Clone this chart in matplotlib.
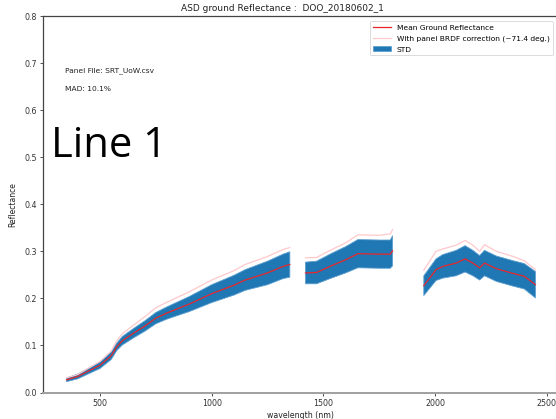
import numpy as np
import matplotlib
matplotlib.use("Agg")
import matplotlib.pyplot as plt

# ---- data ----
wavelength = [350, 400, 450, 500, 550, 575, 600, 650, 700, 750, 800, 900, 1000, 1100, 1150, 1250, 1320, 1350,
              1385,
              1420, 1470, 1530, 1600, 1655, 1750, 1800, 1810,
              1880,
              1950, 2005, 2035, 2095, 2135, 2170, 2200, 2222, 2275, 2350, 2400, 2450]
nan = float("nan")
mean_refl = [0.027, 0.034, 0.046, 0.058, 0.078, 0.097, 0.110, 0.126, 0.141, 0.158, 0.169, 0.188, 0.210, 0.228,
             0.239, 0.254, 0.268, 0.272,
             nan,
             0.254, 0.255, 0.268, 0.282, 0.295, 0.294, 0.294, 0.301,
             nan,
             0.227, 0.261, 0.268, 0.275, 0.284, 0.275, 0.265, 0.275, 0.263, 0.253, 0.247, 0.229]
std_refl = [0.004, 0.005, 0.006, 0.007, 0.008, 0.008, 0.009, 0.010, 0.011, 0.012, 0.013, 0.016, 0.019, 0.021,
            0.022, 0.025, 0.026, 0.027,
            nan,
            0.023, 0.024, 0.026, 0.028, 0.030, 0.030, 0.030, 0.032,
            nan,
            0.021, 0.023, 0.025, 0.027, 0.028, 0.027, 0.026, 0.027, 0.027, 0.027, 0.027, 0.028]
brdf_refl = [0.031, 0.038, 0.052, 0.066, 0.088, 0.110, 0.125, 0.143, 0.161, 0.180, 0.192, 0.214, 0.239, 0.259,
             0.272, 0.289, 0.304, 0.308,
             nan,
             0.286, 0.287, 0.302, 0.318, 0.335, 0.334, 0.337, 0.346,
             nan,
             0.260, 0.300, 0.305, 0.313, 0.323, 0.313, 0.300, 0.314, 0.300, 0.289, 0.280, 0.261]
x_ticks = [500, 1000, 1500, 2000, 2500]
y_ticks = [0.0, 0.1, 0.2, 0.3, 0.4, 0.5, 0.6, 0.7, 0.8]

wl = np.array(wavelength, dtype=float)
m = np.array(mean_refl, dtype=float)
s = np.array(std_refl, dtype=float)
b = np.array(brdf_refl, dtype=float)

fig = plt.figure(figsize=(5.56, 4.19), dpi=100)
ax = fig.add_axes([43.3 / 556, 26.5 / 419, (558 - 43.3) / 556, (392.5 - 16) / 419])

ax.fill_between(wl, m - s, m + s, color="#1f77b4", linewidth=0.6, edgecolor="#5fa0d0", label="STD")
ax.plot(wl, m, color="#e8262a", linewidth=0.9, label="Mean Ground Reflectance")
ax.plot(wl, b, color="#ffc8cc", linewidth=0.9, label="With panel BRDF correction (~71.4 deg.)")

ax.set_xlim(246, 2551)
ax.set_ylim(0, 0.8)
ax.set_xticks(x_ticks)
ax.set_yticks(y_ticks)
ax.tick_params(labelsize=5.7, length=2.5, width=0.6, colors="#333333", pad=2)

for side in ["left", "top", "right"]:
    ax.spines[side].set_color("#444444")
    ax.spines[side].set_linewidth(0.9)
ax.spines["bottom"].set_color("#a0a0a0")
ax.spines["bottom"].set_linewidth(1.4)

ax.set_xlabel("wavelength (nm)", fontsize=5.6, labelpad=2, color="#222222")
ax.set_ylabel("Reflectance", fontsize=5.5, labelpad=5, color="#222222")

fig.text(282.5 / 556, 1 - 8.5 / 419, "ASD ground Reflectance :  DOO_20180602_1", ha="center", va="center",
         fontsize=6.5, color="#222222")

fig.text(65 / 556, 1 - 71 / 419, "Panel File: SRT_UoW.csv", fontsize=5.4, va="center", ha="left", color="#222222")
fig.text(65 / 556, 1 - 89 / 419, "MAD: 10.1%", fontsize=5.4, va="center", ha="left", color="#222222")
fig.text(51 / 556, 1 - 146 / 419, "Line 1", fontsize=30, va="center", ha="left", color="black",
         family="Open Sans")

handles, labels = ax.get_legend_handles_labels()
order = [1, 2, 0]
leg = ax.legend([handles[i] for i in order], [labels[i] for i in order], loc="upper right", fontsize=5.4,
                frameon=True, borderaxespad=0.7, handlelength=2.4, labelspacing=0.6)
leg.get_frame().set_linewidth(0.6)

fig.savefig("out.png", dpi=100)
